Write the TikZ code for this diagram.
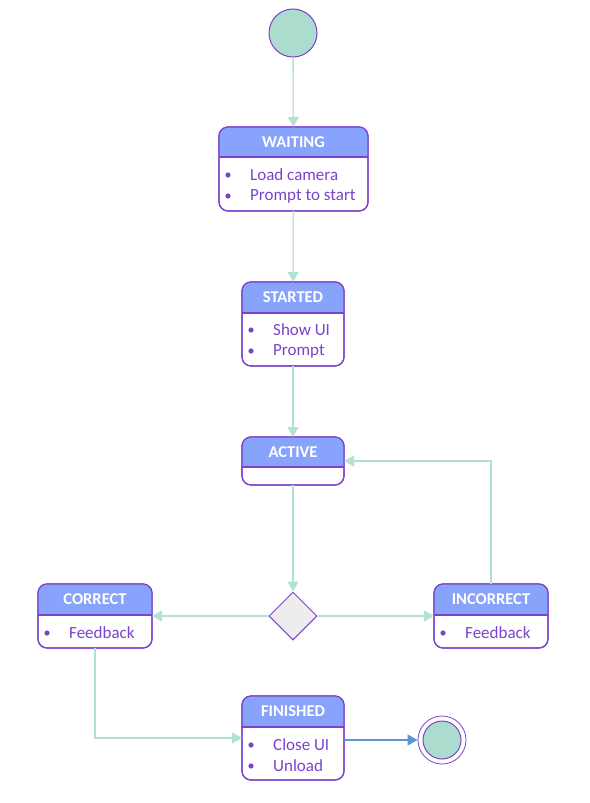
\documentclass[tikz,border=0pt]{standalone}
\usepackage{fontspec}
\setmainfont{Carlito}
\usetikzlibrary{arrows.meta,calc,shapes.geometric}

\definecolor{lineviolet}{HTML}{7B43CB}
\definecolor{headblue}{HTML}{88A3FB}
\definecolor{mint}{HTML}{B2E2D3}
\definecolor{mintfill}{HTML}{ABDCCD}
\definecolor{diagrey}{HTML}{EDEDED}
\definecolor{endblue}{HTML}{5A96CF}

\tikzset{
  statebox/.style={draw=lineviolet, line width=1.2pt, rounded corners=9pt, fill=white, inner sep=0pt, outer sep=0pt},
  flow/.style={draw=mint, line width=1.3pt, -{Triangle[length=10pt,width=11pt]}},
  endflow/.style={draw=endblue, line width=1.3pt, -{Triangle[length=10pt,width=11pt]}},
  title/.style={text=white, font=\fontsize{16.5}{19}\selectfont\bfseries},
  item/.style={text=lineviolet, font=\fontsize{17}{20}\selectfont, anchor=west, inner sep=0pt},
}

% header band of a state: \statehead{node}{title}{header height}
\newcommand\statehead[3]{
  \begin{scope}
    \clip[rounded corners=9pt] (#1.north west) rectangle (#1.south east);
    \fill[headblue] (#1.north west) rectangle ($(#1.north east)+(0,#3)$);
  \end{scope}
  \draw[lineviolet, line width=1.2pt] ($(#1.north west)+(0,#3)$) -- ($(#1.north east)+(0,#3)$);
  \draw[lineviolet, line width=1.2pt, rounded corners=9pt] (#1.north west) rectangle (#1.south east);
  \node[title] (#1-title) at ($(#1.north)+(0,#3/2)$) {#2};
}
% one bullet line: \stateitem{node}{name}{offset from top}{text}
\newcommand\stateitem[4]{
  \node[item] (#2) at ($(#1.north west)+(31,#3)$) {#4};
  \fill[lineviolet] ($(#2.west)+(-22,0)$) circle (2.6pt);
}

\begin{document}
\begin{tikzpicture}[x=1pt, y=-1pt]
  \useasboundingbox (0,0) rectangle (589,803);

  %%%%% states %%%%%
  \node[circle, draw=lineviolet, line width=1pt, fill=mintfill, minimum size=48pt, inner sep=0pt] (start) at (293,33) {};

  \node[statebox, minimum width=149pt, minimum height=84pt] (waiting) at (293.5,169) {};
  \statehead{waiting}{WAITING}{30}
  \stateitem{waiting}{load}{48}{Load camera}
  \stateitem{waiting}{prompt}{69}{Prompt to start}

  \node[statebox, minimum width=102pt, minimum height=84pt] (started) at (293,324) {};
  \statehead{started}{STARTED}{31}
  \stateitem{started}{showui}{48}{Show UI}
  \stateitem{started}{promptb}{69}{Prompt}

  \node[statebox, minimum width=102pt, minimum height=48pt] (active) at (293,461) {};
  \statehead{active}{ACTIVE}{30}

  \node[diamond, draw=lineviolet, line width=1pt, fill=diagrey, minimum width=48pt, minimum height=48pt, inner sep=0pt] (decision) at (293,616) {};

  \node[statebox, minimum width=114pt, minimum height=64pt] (correct) at (95,616) {};
  \statehead{correct}{CORRECT}{31}
  \stateitem{correct}{fbgood}{49}{Feedback}

  \node[statebox, minimum width=114pt, minimum height=64pt] (incorrect) at (491,616) {};
  \statehead{incorrect}{INCORRECT}{31}
  \stateitem{incorrect}{fbbad}{49}{Feedback}

  \node[statebox, minimum width=102pt, minimum height=84pt] (finished) at (293,738) {};
  \statehead{finished}{FINISHED}{31}
  \stateitem{finished}{closeui}{49}{Close UI}
  \stateitem{finished}{unload}{70}{Unload}

  \node[circle, draw=lineviolet, line width=0.8pt, fill=white, minimum size=48pt, inner sep=0pt] (end) at (442,740) {};
  \node[circle, draw=lineviolet, line width=1pt, fill=mintfill, minimum size=38pt, inner sep=0pt] (endcore) at (end) {};

  %%%%% transitions %%%%%
  \draw[flow] (start) -- (waiting);
  \draw[flow] (waiting) -- (started);
  \draw[flow] (started) -- (active);
  \draw[flow] (active) -- (decision);
  \draw[flow] (decision) -- (correct);
  \draw[flow] (decision) -- (incorrect);
  \draw[flow] (incorrect) |- (active);
  \draw[flow] (correct) |- (finished);
  \draw[endflow] (finished.east |- end) -- (end);
\end{tikzpicture}
\end{document}
